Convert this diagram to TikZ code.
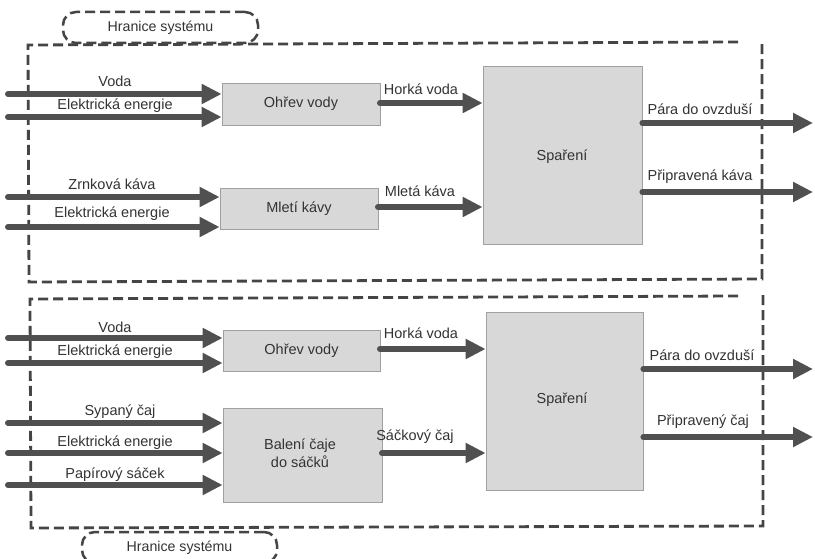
\documentclass[tikz,border=0pt]{standalone}
\usepackage{fontspec}
\setmainfont{Liberation Sans}
\usetikzlibrary{arrows.meta}
\definecolor{arrowgray}{HTML}{505050}
\definecolor{boxgray}{HTML}{D8D8D8}
\definecolor{boxedge}{HTML}{A0A0A0}
\definecolor{dashgray}{HTML}{454545}
\definecolor{textgray}{HTML}{333333}
\begin{document}
\begin{tikzpicture}[x=1pt,y=-1pt,
  flow/.style={draw=arrowgray, line width=6pt, line cap=round, -{Triangle[length=20pt,width=19pt]}},
  proc/.style={draw=boxedge, fill=boxgray, line width=0.8pt, inner sep=0pt, align=center,
    font=\fontsize{14.5}{17}\selectfont, text=textgray},
  lbl/.style={inner sep=0pt, font=\fontsize{14.5}{17}\selectfont, text=textgray},
  boundary/.style={draw=dashgray, line width=2.8pt, dash pattern=on 10pt off 5pt},
  tagbox/.style={draw=dashgray, line width=2.5pt, dash pattern=on 10pt off 5pt, rounded corners=13pt,
    fill=white, minimum width=195pt, minimum height=31pt, inner sep=0pt,
    font=\fontsize{14.2}{17}\selectfont, text=textgray}
]
\useasboundingbox (0,0) rectangle (815,559);
\fill[white] (0,0) rectangle (815,559);

% ---------- system boundaries ----------
\draw[boundary] (738,42) -- (28,45) -- (29,282) -- (762,279) -- (762,40);
\draw[boundary] (738,296) -- (30,299) -- (31,528) -- (763,526) -- (763,293);

\node[tagbox] (tag1) at (160.5,27.5) {Hranice systému};
\node[tagbox] (tag2) at (179.5,547.5) {Hranice systému};

% ---------- top system (coffee) ----------
\node[proc, minimum width=158pt, minimum height=42pt] (ohrev1) at (301,104) {Ohřev vody};
\node[proc, minimum width=158pt, minimum height=41pt] (mleti) at (299,208.5) {Mletí kávy};
\node[proc, minimum width=159pt, minimum height=178pt] (spar1) at (562.5,155) {};
\node[lbl] (spar1t) at (562,157) {Spaření};

\coordinate (a1) at (8,94);
\coordinate (a2) at (8,117);
\coordinate (a3) at (8,197);
\coordinate (a4) at (8,227);
\draw[flow] (a1) -- (a1 -| ohrev1.west);
\draw[flow] (a2) -- (a2 -| ohrev1.west);
\draw[flow] (a3) -- (a3 -| mleti.west);
\draw[flow] (a4) -- (a4 -| mleti.west);

\coordinate (h1) at (380,103);
\coordinate (m1) at (378,207);
\draw[flow] (h1) -- (h1 -| spar1.west);
\draw[flow] (m1) -- (m1 -| spar1.west);

\coordinate (o1) at (813,123);
\coordinate (o2) at (813,192);
\draw[flow] (o1 -| spar1.east) -- (o1);
\draw[flow] (o2 -| spar1.east) -- (o2);

\node[lbl] (l1) at (115,81) {Voda};
\node[lbl] (l2) at (115,106) {Elektrická energie};
\node[lbl] (l3) at (112,184) {Zrnková káva};
\node[lbl] (l4) at (112,214) {Elektrická energie};
\node[lbl] (l5) at (421,89) {Horká voda};
\node[lbl] (l6) at (420,191) {Mletá káva};
\node[lbl] (l7) at (700,109) {Pára do ovzduší};
\node[lbl] (l8) at (700,177) {Připravená káva};

% ---------- bottom system (tea) ----------
\node[proc, minimum width=157pt, minimum height=41pt] (ohrev2) at (301.5,350.5) {Ohřev vody};
\node[proc, minimum width=159pt, minimum height=94pt] (baleni) at (302.5,455) {};
\node[lbl, align=center, font=\fontsize{14.5}{18}\selectfont] (balt) at (300,453) {Balení čaje\\do sáčků};
\node[proc, minimum width=157pt, minimum height=178pt] (spar2) at (564.5,401) {};
\node[lbl] (spar2t) at (562,400) {Spaření};

\coordinate (b1) at (8,338);
\coordinate (b2) at (8,363);
\coordinate (b3) at (8,423);
\coordinate (b4) at (8,453);
\coordinate (b5) at (8,485);
\draw[flow] (b1) -- (b1 -| ohrev2.west);
\draw[flow] (b2) -- (b2 -| ohrev2.west);
\draw[flow] (b3) -- (b3 -| baleni.west);
\draw[flow] (b4) -- (b4 -| baleni.west);
\draw[flow] (b5) -- (b5 -| baleni.west);

\coordinate (h2) at (380,349);
\coordinate (s2) at (382,453);
\draw[flow] (h2) -- (h2 -| spar2.west);
\draw[flow] (s2) -- (s2 -| spar2.west);

\coordinate (o3) at (813,369);
\coordinate (o4) at (813,437);
\draw[flow] (o3 -| spar2.east) -- (o3);
\draw[flow] (o4 -| spar2.east) -- (o4);

\node[lbl] (k1) at (115,327) {Voda};
\node[lbl] (k2) at (115,352) {Elektrická energie};
\node[lbl] (k3) at (120,412) {Sypaný čaj};
\node[lbl] (k4) at (115,443) {Elektrická energie};
\node[lbl] (k5) at (115,475) {Papírový sáček};
\node[lbl] (k6) at (421,333) {Horká voda};
\node[lbl] (k7) at (415,437) {Sáčkový čaj};
\node[lbl] (k8) at (702,355) {Pára do ovzduší};
\node[lbl] (k9) at (703,422) {Připravený čaj};
\end{tikzpicture}
\end{document}
